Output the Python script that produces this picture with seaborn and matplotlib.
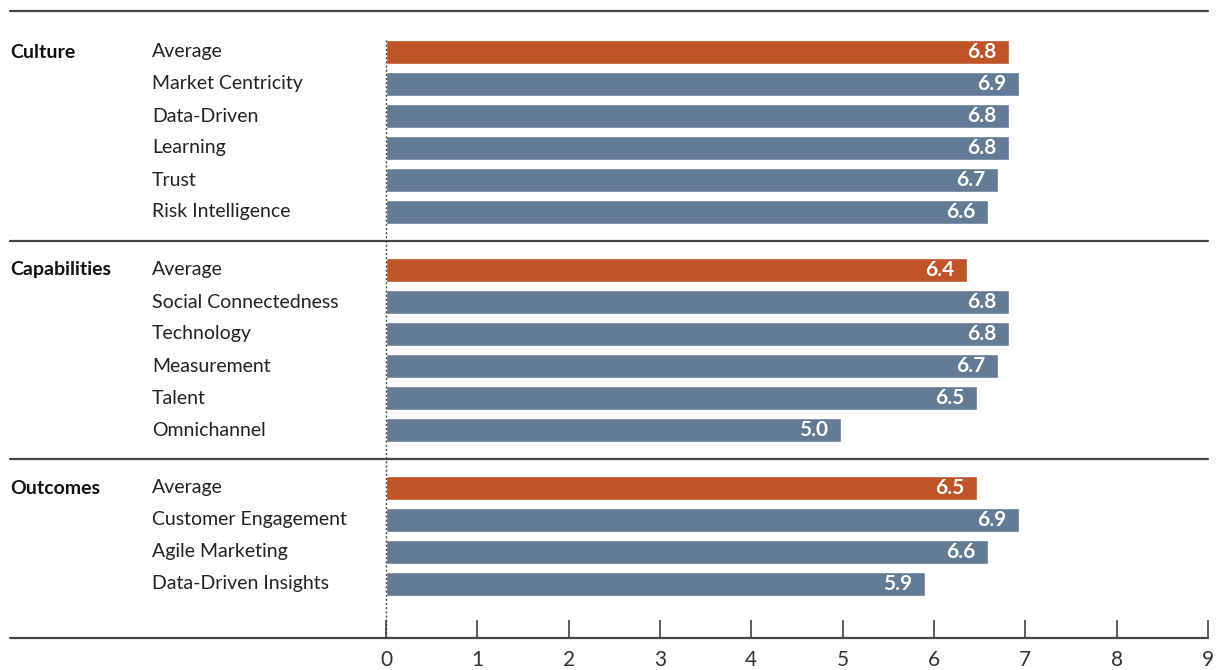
import matplotlib
matplotlib.use("Agg")
import matplotlib.pyplot as plt
import matplotlib.transforms as mtrans
import seaborn as sns
import pandas as pd

# ---- data ----
groups = ["Culture", "Capabilities", "Outcomes"]
culture_items = ["Average", "Market Centricity", "Data-Driven", "Learning", "Trust", "Risk Intelligence"]
culture_vals = [6.82, 6.93, 6.82, 6.82, 6.70, 6.59]
capabilities_items = ["Average", "Social Connectedness", "Technology", "Measurement", "Talent", "Omnichannel"]
capabilities_vals = [6.36, 6.82, 6.82, 6.70, 6.47, 4.98]
outcomes_items = ["Average", "Customer Engagement", "Agile Marketing", "Data-Driven Insights"]
outcomes_vals = [6.47, 6.93, 6.59, 5.90]
x_ticks = [0, 1, 2, 3, 4, 5, 6, 7, 8, 9]

ORANGE = "#BE5428"
BLUE = "#637B95"
LINE = "#444444"
TEXT = "#222222"

GAP = 0.8125  # extra space between groups (in row units)

rows = []
for gi, (g, items, vals) in enumerate(zip(groups,
                                         [culture_items, capabilities_items, outcomes_items],
                                         [culture_vals, capabilities_vals, outcomes_vals])):
    for ii, (it, v) in enumerate(zip(items, vals)):
        rows.append(dict(group=g, item=it, value=v,
                         kind="avg" if it == "Average" else "item",
                         first=(ii == 0), gi=gi))
df = pd.DataFrame(rows)
df["pos"] = df.index + df["gi"] * GAP

sns.set_style("white")
plt.rcParams["font.family"] = ["Lato", "DejaVu Sans"]

W, H = 1216, 670
fig = plt.figure(figsize=(W / 100, H / 100), dpi=100)
X0, X1 = 386, 1208
ax_left, ax_right = X0 / W, X1 / W
ax_top, ax_bot = 1 - 11 / H, 1 - 638 / H
ax = fig.add_axes([ax_left, ax_bot, ax_right - ax_left, ax_top - ax_bot])

sns.barplot(data=df, x="value", y="pos", hue="kind", orient="h", native_scale=True,
            palette={"avg": ORANGE, "item": BLUE}, dodge=False, legend=False,
            width=0.75, saturation=1, ax=ax, errorbar=None)

last = df["pos"].iloc[-1]
ax.set_ylim(last + 1.6875, -1.28125)
ax.set_xlim(0, 9)
ax.set_xticks(x_ticks)
ax.set_xticklabels([str(t) for t in x_ticks])
ax.set_yticks([])
ax.set_xlabel("")
ax.set_ylabel("")
ax.tick_params(axis="x", bottom=True, direction="in", length=13, width=1.2, color=LINE,
               pad=9, labelsize=15, labelcolor="#333333")

for s in ["left", "right", "top", "bottom"]:
    ax.spines[s].set_visible(False)

ext_min = (10 - X0) / (X1 - X0)
ylo, yhi = ax.get_ylim()
ax.axhline(yhi, xmin=ext_min, xmax=1, color=LINE, lw=1.6, clip_on=False)
ax.axhline(ylo, xmin=ext_min, xmax=1, color=LINE, lw=1.6, clip_on=False)
firsts = df[df["first"]]["pos"].tolist()
for i in range(1, len(firsts)):
    prev_last = df[df["gi"] == i - 1]["pos"].iloc[-1]
    ax.axhline((prev_last + firsts[i]) / 2, xmin=ext_min, xmax=1, color=LINE, lw=1.6, clip_on=False)

# dotted zero line
ax.plot([0, 0], [df["pos"].iloc[0] - 0.375, ylo], ls=(0, (1.5, 1.5)),
        color=LINE, lw=1, clip_on=False, zorder=5)

tr = mtrans.blended_transform_factory(fig.transFigure, ax.transData)
for _, r in df.iterrows():
    if r["first"]:
        ax.text(10 / W, r["pos"], r["group"], transform=tr, ha="left", va="center",
                fontsize=14, fontweight="bold", color="#111111")
    ax.text(152 / W, r["pos"], r["item"], transform=tr, ha="left", va="center",
            fontsize=14, color=TEXT)
    ax.annotate(f"{r['value']:.1f}", xy=(r["value"], r["pos"]), xytext=(-9, 0),
                textcoords="offset points", ha="right", va="center",
                fontsize=15, fontweight="bold", color="white")

fig.savefig("out.png", dpi=100)
